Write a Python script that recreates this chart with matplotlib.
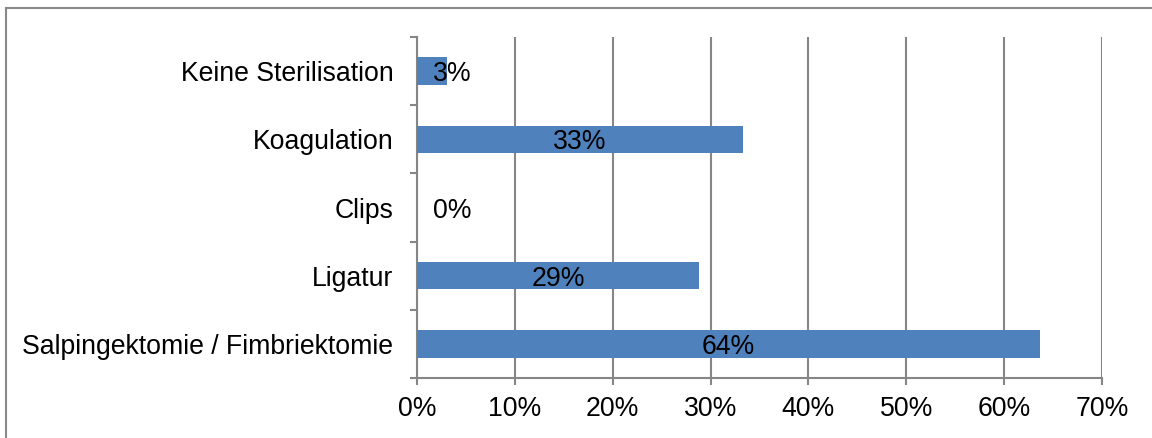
import matplotlib.pyplot as plt
from matplotlib.lines import Line2D
from matplotlib.ticker import FixedLocator, PercentFormatter

plt.rcParams['font.family'] = ['Liberation Sans', 'DejaVu Sans']

# Data (bottom to top)
categories = ['Salpingektomie / Fimbriektomie', 'Ligatur', 'Clips', 'Koagulation', 'Keine Sterilisation']
values = [0.637, 0.288, 0.0, 0.333, 0.031]
labels = ['64%', '29%', '0%', '33%', '3%']

bar_color = '#4F81BD'
grid_color = '#868686'
fs = 19.2

W, H = 1152, 438
fig = plt.figure(figsize=(W / 100, H / 100), dpi=100)
ax = fig.add_axes([417 / W, 1 - 378 / H, (1102 - 417) / W, (378 - 37) / H])

ypos = list(range(len(categories)))
ax.barh(ypos, values, height=0.4, color=bar_color, zorder=3)

ax.set_xlim(0, 0.7)
ax.set_ylim(-0.5, len(categories) - 0.5)
ax.xaxis.set_major_locator(FixedLocator([i / 10 for i in range(8)]))
ax.xaxis.set_major_formatter(PercentFormatter(1.0, decimals=0))
ax.grid(axis='x', color=grid_color, linewidth=1.5, zorder=0)

ax.set_yticks(ypos)
ax.set_yticklabels(categories)
ax.set_yticks([i - 0.5 for i in range(len(categories) + 1)], minor=True)
ax.tick_params(axis='y', which='major', length=0, pad=17, labelsize=fs)
ax.tick_params(axis='y', which='minor', length=5, width=1.5, color=grid_color)
ax.tick_params(axis='x', length=5, width=1.5, color=grid_color, pad=8, labelsize=fs)

for s in ['top', 'right']:
    ax.spines[s].set_visible(False)
for s in ['left', 'bottom']:
    ax.spines[s].set_color(grid_color)
    ax.spines[s].set_linewidth(1.5)

# data labels: centered in bar, or just right of the axis for short bars
for y, v, lab in zip(ypos, values, labels):
    if v < 0.05:
        ax.annotate(lab, (0, y), xytext=(11.5, 0), textcoords='offset points',
                    ha='left', va='center_baseline', fontsize=fs, zorder=4)
    else:
        ax.text(v / 2, y, lab, ha='center', va='center_baseline', fontsize=fs, zorder=4)

# chart area border (top and left edges visible)
fig.add_artist(Line2D([5.5 / W, 1], [1 - 7.5 / H, 1 - 7.5 / H], color='#898989', linewidth=1.5,
                      transform=fig.transFigure))
fig.add_artist(Line2D([5.5 / W, 5.5 / W], [0, 1 - 7.5 / H], color='#898989', linewidth=1.5,
                      transform=fig.transFigure))

fig.savefig('out.png', dpi=100)
